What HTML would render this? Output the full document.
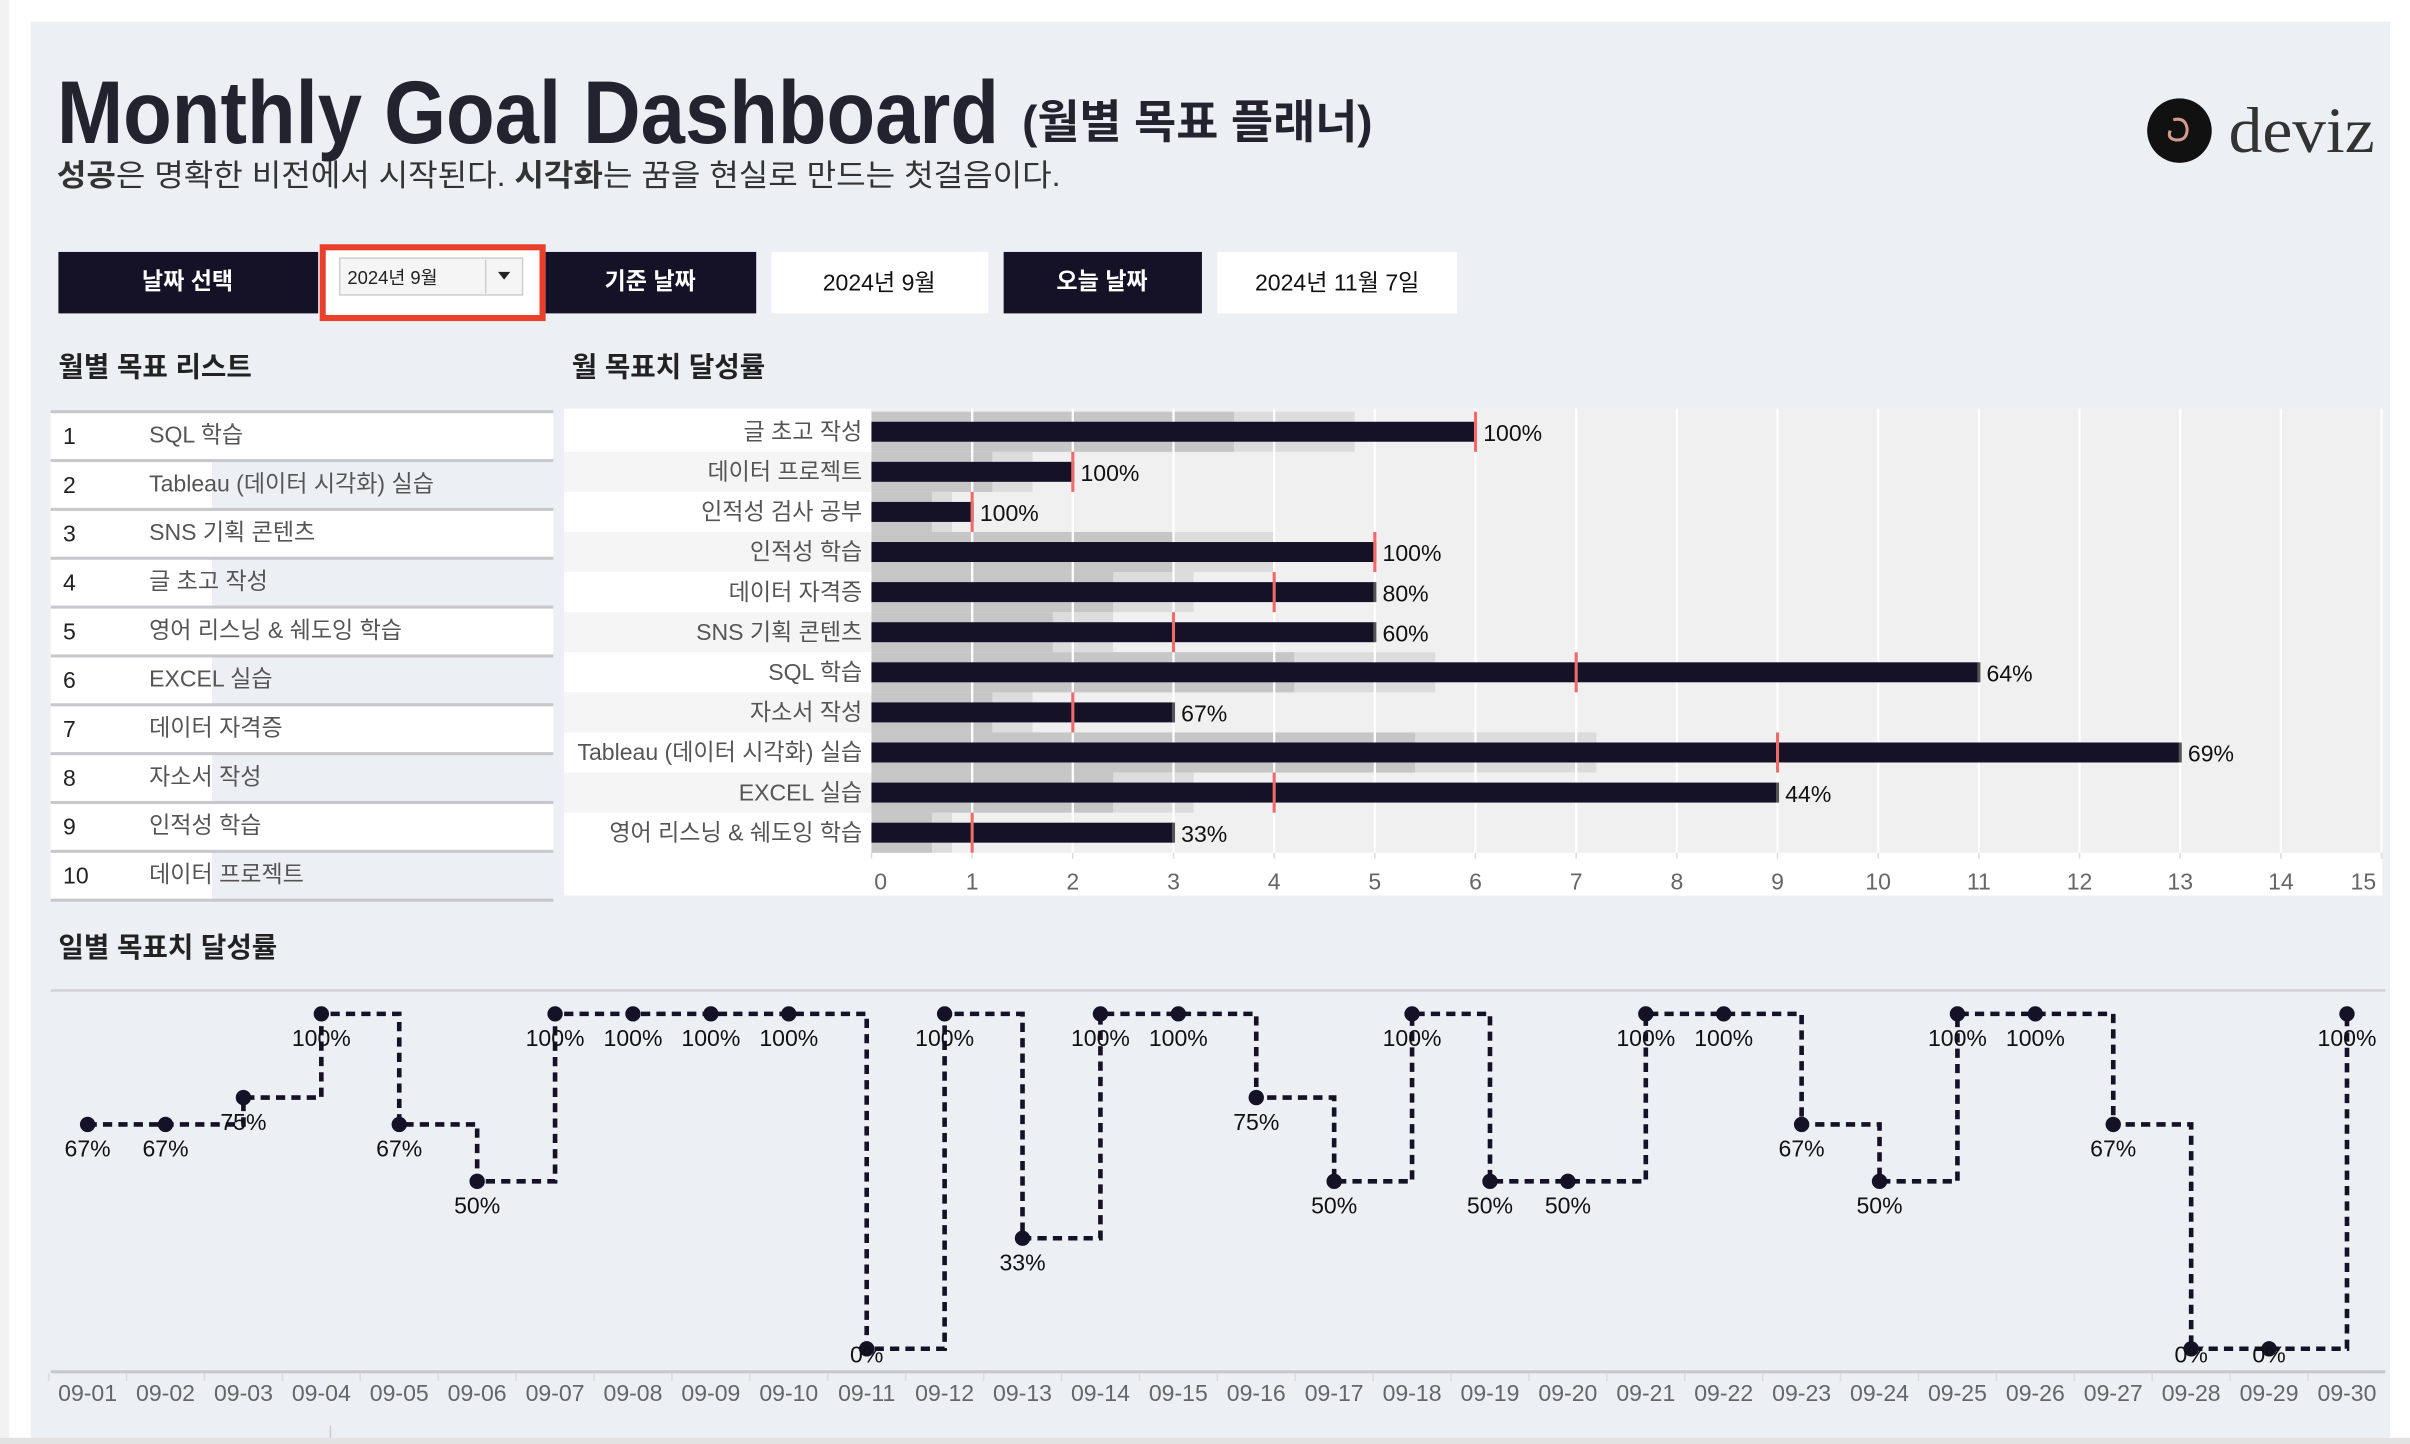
<!DOCTYPE html>
<html><head><meta charset="utf-8">
<style>
html,body{margin:0;padding:0;background:#fff;overflow:hidden;}
svg{display:block;}
text{font-family:"Liberation Sans","Noto Sans CJK KR",sans-serif;}
</style></head>
<body>
<svg id="root" width="2410" height="1444" viewBox="0 0 1568 940" preserveAspectRatio="none" xmlns="http://www.w3.org/2000/svg">
  <rect x="0" y="0" width="1568" height="940" fill="#ffffff"/>
  <rect x="0" y="0" width="6" height="940" fill="#f2f2f2"/>
  <rect x="20" y="14" width="1535" height="922" fill="#eceff4"/>
  <rect x="0" y="936" width="1568" height="4" fill="#e2e2e2"/>

  <!-- header -->
  <text x="37" y="93" font-size="58" font-weight="bold" fill="#23232f" textLength="613" lengthAdjust="spacingAndGlyphs">Monthly Goal Dashboard</text>
  <text x="665" y="90" font-size="30" font-weight="bold" fill="#23232f" textLength="228" lengthAdjust="spacingAndGlyphs">(월별 목표 플래너)</text>
  <text x="37" y="121" font-size="20" fill="#333" textLength="653" lengthAdjust="spacingAndGlyphs"><tspan font-weight="bold">성공</tspan>은 명확한 비전에서 시작된다. <tspan font-weight="bold">시각화</tspan>는 꿈을 현실로 만드는 첫걸음이다.</text>
  <g>
    <circle cx="1418" cy="85" r="21" fill="#111"/>
    <path d="M1414 78 q8 -2 9 6 q0 8 -8 7 q-5 -1 -3 -6" fill="none" stroke="#d49a8e" stroke-width="2"/>
    <text x="1450" y="99" font-size="42" fill="#333" textLength="95" lengthAdjust="spacingAndGlyphs" style="font-family:'Liberation Serif',serif">deviz</text>
  </g>

  <!-- controls -->
  <rect x="38" y="164" width="169" height="40" fill="#151127"/>
  <text x="122" y="188" font-size="15" font-weight="bold" fill="#fff" text-anchor="middle">날짜 선택</text>
  <rect x="210" y="161" width="143" height="46" fill="none" stroke="#e8402a" stroke-width="4"/>
  <rect x="212" y="163" width="139" height="42" fill="#ffffff"/>
  <g>
    <rect x="221" y="168" width="119" height="24" fill="#f5f5f5" stroke="#cfcfcf" stroke-width="1"/>
    <line x1="316" y1="169" x2="316" y2="191" stroke="#d0d0d0"/>
    <text x="226" y="185" font-size="12" fill="#222">2024년 9월</text>
    <path d="M324 177 h8 l-4 5 z" fill="#222"/>
  </g>
  <rect x="355" y="164" width="137" height="40" fill="#151127"/>
  <text x="423" y="188" font-size="15" font-weight="bold" fill="#fff" text-anchor="middle">기준 날짜</text>
  <rect x="502" y="164" width="141" height="40" fill="#fff"/>
  <text x="572" y="189" font-size="15" fill="#111" text-anchor="middle">2024년 9월</text>
  <rect x="653" y="164" width="129" height="40" fill="#151127"/>
  <text x="717" y="188" font-size="15" font-weight="bold" fill="#fff" text-anchor="middle">오늘 날짜</text>
  <rect x="792" y="164" width="156" height="40" fill="#fff"/>
  <text x="870" y="189" font-size="15" fill="#111" text-anchor="middle">2024년 11월 7일</text>

  <!-- section titles -->
  <text x="38" y="245" font-size="18" font-weight="bold" fill="#222">월별 목표 리스트</text>
  <text x="372" y="245" font-size="18" font-weight="bold" fill="#222">월 목표치 달성률</text>
  <text x="38" y="623" font-size="18" font-weight="bold" fill="#222">일별 목표치 달성률</text>

  <g id="table"></g>
  <g id="bars"></g>
  <g id="line"></g>
</svg>
<script>
const NS = "http://www.w3.org/2000/svg";
// ---- table data ----
const listNames = ["SQL 학습","Tableau (데이터 시각화) 실습","SNS 기획 콘텐츠","글 초고 작성","영어 리스닝 & 쉐도잉 학습","EXCEL 실습","데이터 자격증","자소서 작성","인적성 학습","데이터 프로젝트"];
// ---- bullet chart data ----
const barCategories = ["글 초고 작성","데이터 프로젝트","인적성 검사 공부","인적성 학습","데이터 자격증","SNS 기획 콘텐츠","SQL 학습","자소서 작성","Tableau (데이터 시각화) 실습","EXCEL 실습","영어 리스닝 & 쉐도잉 학습"];
const barTargets = [6,2,1,5,5,5,11,3,13,9,3];
const barAchieved = [6,2,1,5,4,3,7,2,9,4,1];
const barTicks = [0,1,2,3,4,5,6,7,8,9,10,11,12,13,14,15];
// ---- daily chart data ----
const dayLabels = ["09-01","09-02","09-03","09-04","09-05","09-06","09-07","09-08","09-09","09-10","09-11","09-12","09-13","09-14","09-15","09-16","09-17","09-18","09-19","09-20","09-21","09-22","09-23","09-24","09-25","09-26","09-27","09-28","09-29","09-30"];
const dayRates = [67,67,75,100,67,50,100,100,100,100,0,100,33,100,100,75,50,100,50,50,100,100,67,50,100,100,67,0,0,100];

function mk(tag, attrs, parent, txt){
  const e = document.createElementNS(NS, tag);
  for (const k in attrs) e.setAttribute(k, attrs[k]);
  if (txt !== undefined) e.textContent = txt;
  parent.appendChild(e);
  return e;
}

// ---- table ----
(function(){
  const g = document.getElementById('table');
  const y0 = 268, rh = 31.8;
  listNames.forEach((n, i) => {
    const y = y0 + i*rh;
    const row = mk('g', {}, g);
    
    
    mk('rect', {x:33, y:y, width:105, height:rh, fill:'#fff'}, row);
    mk('rect', {x:138, y:y, width:222, height:rh, fill: i%2 ? '#eceff4' : '#fff'}, row);
    mk('text', {x:41, y:y+21, 'font-size':15, fill:'#222'}, row, String(i+1));
    mk('text', {x:97, y:y+20, 'font-size':15, fill:'#555'}, row, n);
    mk('rect', {x:33, y:y-1, width:327, height:2, fill:'#c8c8cc'}, row);
  });
  mk('rect', {x:33, y:y0+listNames.length*rh-1, width:327, height:2, fill:'#c8c8cc'}, g);
})();

// ---- bullet chart ----
(function(){
  const g = document.getElementById('bars');
  const x0 = 567, unit = 65.5, y0 = 268, rh = 26.1;
  const sx = v => x0 + v*unit;
  const plotB = y0 + barCategories.length*rh;
  mk('rect', {x:367, y:266, width:1183, height:317, fill:'#fff'}, g);
  mk('rect', {x:x0, y:266, width:1550-x0, height:plotB-266, fill:'#f0f0f0'}, g);
  barCategories.forEach((c, i) => {
    const y = y0 + i*rh;
    if (i%2) mk('rect', {x:367, y:y, width:200, height:rh, fill:'#f5f5f5'}, g);
    const a = barAchieved[i];
    const b1 = mk('rect', {x:x0, y:y, width:sx(a*0.8)-x0, height:rh, fill:'#dcdcdc'}, g);
    
    
    const b2 = mk('rect', {x:x0, y:y, width:sx(a*0.6)-x0, height:rh, fill:'#c6c6c6'}, g);
    
    
  });
  barTicks.forEach(t => {
    if (t === 0) return;
    mk('line', {x1:sx(t), y1:266, x2:sx(t), y2:plotB, stroke:'#fff', 'stroke-width':1.5}, g);
  });
  barCategories.forEach((c, i) => {
    const y = y0 + i*rh, cy = y + rh/2;
    const lab = mk('text', {x:561, y:cy+5, 'font-size':15, fill:'#555', 'text-anchor':'end'}, g, c);
    
    
    const t = barTargets[i], a = barAchieved[i];
    const bar = mk('rect', {x:x0, y:cy-6.5, width:sx(t)-x0, height:13, fill:'#151127'}, g);
    
    
    mk('rect', {x:sx(t)-1, y:cy-6.5, width:2, height:13, fill:'#555'}, g);
    const gl = mk('rect', {x:sx(a)-1, y:y, width:2, height:rh, fill:'#f06a6a'}, g);
    
    
    const pct = mk('text', {x:sx(t)+5, y:cy+6, 'font-size':15, fill:'#111'}, g, Math.round(a/t*100) + '%');
    
    
  });
  const lastTick = barTicks[barTicks.length-1];
  barTicks.forEach(t => {
    mk('line', {x1:sx(t), y1:plotB, x2:sx(t), y2:plotB+4, stroke:'#ddd'}, g);
    let x = sx(t), anchor = 'middle';
    if (t === 0) x += 6;
    if (t === lastTick) { x = 1546; anchor = 'end'; }
    const tl = mk('text', {x:x, y:579, 'font-size':15, fill:'#666', 'text-anchor':anchor}, g, String(t));
    
    
  });
})();

// ---- daily step chart ----
(function(){
  const g = document.getElementById('line');
  const xl = 57, step = (1527-57)/(dayLabels.length-1);
  const sx = i => xl + i*step;
  const sy = v => 878 - v*2.18;
  mk('rect', {x:33, y:644, width:1519, height:1.5, fill:'#d0d0d4'}, g);
  mk('rect', {x:33, y:892, width:1519, height:2, fill:'#c8c8cc'}, g);
  let d = 'M' + sx(0) + ' ' + sy(dayRates[0]);
  for (let i = 1; i < dayRates.length; i++) d += ' H' + sx(i) + ' V' + sy(dayRates[i]);
  const p = mk('path', {d:d, fill:'none', stroke:'#151127', 'stroke-width':3, 'stroke-dasharray':'6 4'}, g);
  
  
  dayRates.forEach((v, i) => {
    const c = mk('circle', {cx:sx(i), cy:sy(v), r:5, fill:'#151127'}, g);
    
    
    const ly = Math.min(sy(v)+21, 887);
    const t = mk('text', {x:sx(i), y:ly, 'font-size':15, fill:'#111', 'text-anchor':'middle'}, g, v + '%');
    
    
  });
  dayLabels.forEach((l, i) => {
    mk('line', {x1:sx(i)-step/2, y1:894, x2:sx(i)-step/2, y2:899, stroke:'#dcdcdc'}, g);
    const t = mk('text', {x:sx(i), y:912, 'font-size':15, fill:'#666', 'text-anchor':'middle'}, g, l);
    
    
  });
  mk('line', {x1:215, y1:928, x2:215, y2:936, stroke:'#ccc'}, g);
})();
</script>
</body></html>
